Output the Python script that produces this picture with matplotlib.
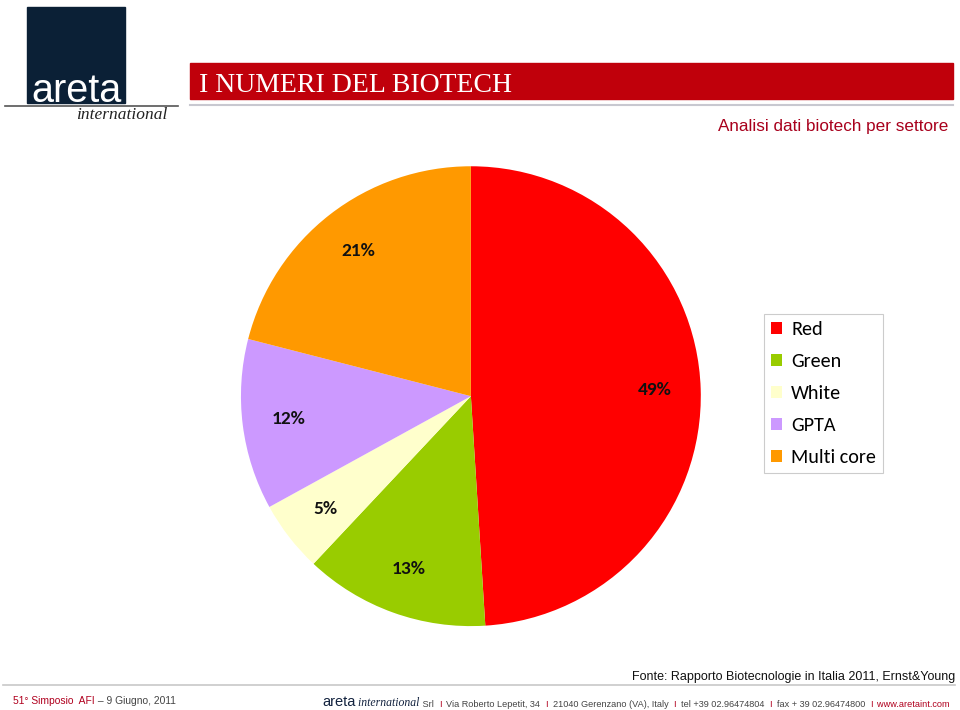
import matplotlib
matplotlib.use("Agg")
import matplotlib.pyplot as plt
from matplotlib import font_manager
from matplotlib.patches import Rectangle
from matplotlib.lines import Line2D

# dati
sectors = ["Red", "Green", "White", "GPTA", "Multi core"]
shares = [49, 13, 5, 12, 21]
colors = ["#FF0000", "#99CC00", "#FFFFCC", "#CC99FF", "#FF9900"]

title = "I NUMERI DEL BIOTECH"
subtitle = "Analisi dati biotech per settore"
source = "Fonte: Rapporto Biotecnologie in Italia 2011, Ernst&Young"

# font disponibili
names = {f.name for f in font_manager.fontManager.ttflist}
calib = "Carlito" if "Carlito" in names else "Lato"
has_narrow = "Liberation Sans Narrow" in names
narrow = "Liberation Sans Narrow" if has_narrow else "Liberation Sans"
k = 1.0 if has_narrow else 0.82

fig = plt.figure(figsize=(9.6, 7.1), dpi=100)
fig.patch.set_facecolor("white")

# sfondo per intestazione e piede
bg = fig.add_axes([0, 0, 1, 1])
bg.set_xlim(0, 960)
bg.set_ylim(710, 0)
bg.axis("off")

# logo
bg.add_patch(Rectangle((27, 7), 98, 96, color="#0b2036", zorder=1))
bg.add_line(Line2D([5, 178], [106, 106], color="#555555", lw=1.2))
bg.text(31, 102, "areta", color="white", fontsize=28.5, family="Liberation Sans",
        va="baseline", ha="left", zorder=2)
bg.text(76, 119, "international", color="#222222", fontsize=12.5, style="italic",
        family="Liberation Serif", va="baseline", ha="left")

# banner titolo
bg.add_patch(Rectangle((190, 63), 763, 36, color="#C0000B"))
bg.add_line(Line2D([190, 953], [105, 105], color="#c8c8d0", lw=1.5))
bg.text(199, 92, title, color="white", fontsize=20, family="Liberation Serif",
        va="baseline", ha="left")
bg.text(948, 131, subtitle, color="#a8001c", fontsize=15 * k, family=narrow,
        va="baseline", ha="right")

# piede
bg.text(955, 680, source, color="#111111", fontsize=11 * k, family=narrow,
        va="baseline", ha="right")
bg.add_line(Line2D([3, 955], [685, 685], color="#c8c8c8", lw=1.2))

red = "#b0001e"
grey = "#444444"
fs = 8.0 * k


def chain(prev, txt, color, size=fs, family=narrow, style="normal"):
    return bg.annotate(txt, xy=(1, 0), xycoords=prev, color=color, fontsize=size,
                       family=family, style=style, va="bottom", ha="left")


t = bg.text(13, 704, "51\u00b0 Simposio  AFI", color=red, fontsize=9 * k, family=narrow,
            va="baseline", ha="left")
chain(t, " \u2013 9 Giugno, 2011", grey, size=9 * k)

t = bg.text(322, 706, "areta", color="#13233f", fontsize=10.5, family="Liberation Sans",
            va="baseline", ha="left")
t = bg.annotate(" international", xy=(1, 0), xycoords=t, color="#13233f", fontsize=8.5,
                family="Liberation Serif", style="italic", va="bottom", ha="left")
pieces = [(" Srl  ", grey), ("I", red), ("  Via Roberto Lepetit, 34  ", grey), ("I", red),
          ("  21040 Gerenzano (VA), Italy  ", grey), ("I", red),
          ("  tel +39 02.96474804  ", grey), ("I", red),
          ("  fax + 39 02.96474800  ", grey), ("I", red), ("  www.aretaint.com", red)]
for txt, c in pieces:
    t = chain(t, txt, c)

# torta
ax = fig.add_axes([0.251, 0.118, 0.479, 0.648])
wedges, texts, autotexts = ax.pie(shares, colors=colors, startangle=90, counterclock=False,
                                  autopct="%d%%", pctdistance=0.8,
                                  wedgeprops=dict(linewidth=0),
                                  textprops=dict(fontsize=14, family=calib, weight="bold",
                                                 color="#111111"))
ax.set_xlim(-1, 1)
ax.set_ylim(-1, 1)
ax.set_aspect("equal")

leg = fig.legend(wedges, sectors, loc="upper left", bbox_to_anchor=(0.796, 0.558),
                 borderaxespad=0, frameon=True, fancybox=False,
                 prop=dict(family=calib, size=14.5),
                 handlelength=0.55, handleheight=0.55, handletextpad=0.45, labelspacing=0.75,
                 borderpad=0.35)
leg.get_frame().set_edgecolor("#c0c0c0")
leg.get_frame().set_linewidth(0.8)

fig.savefig("out.png", dpi=100)
